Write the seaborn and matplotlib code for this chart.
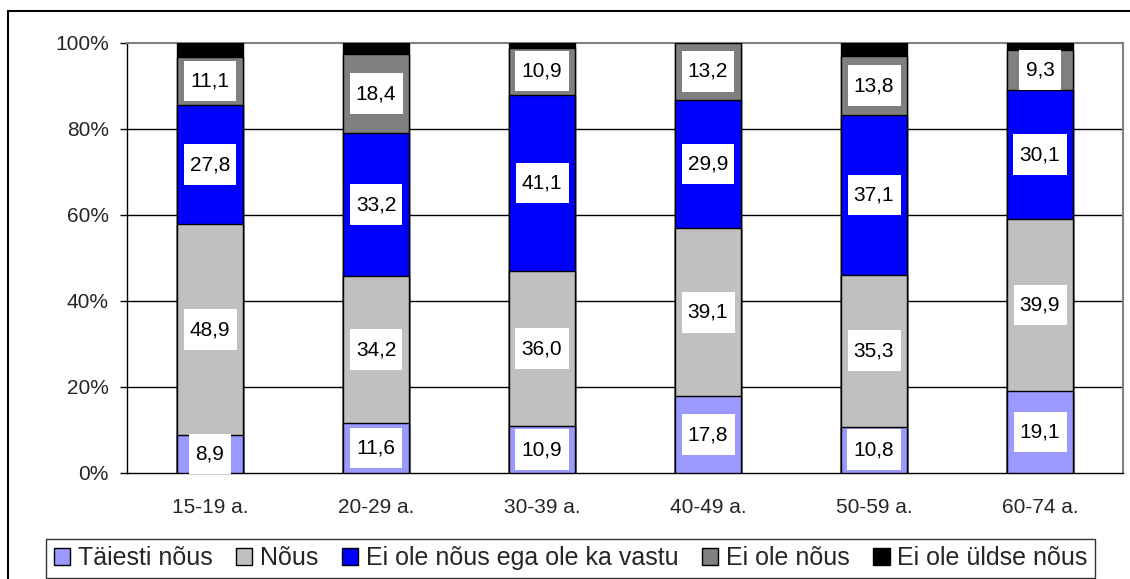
import matplotlib
matplotlib.use("Agg")
import matplotlib.pyplot as plt
import seaborn as sns
import pandas as pd
import numpy as np
from matplotlib.patches import Rectangle, Patch
from matplotlib.path import Path

# age groups and answer shares (%)
groups = ["15-19 a.", "20-29 a.", "30-39 a.", "40-49 a.", "50-59 a.", "60-74 a."]
taiesti_nous = [8.9, 11.6, 10.9, 17.8, 10.8, 19.1]
nous = [48.9, 34.2, 36.0, 39.1, 35.3, 39.9]
ega_vastu = [27.8, 33.2, 41.1, 29.9, 37.1, 30.1]
ei_nous = [11.1, 18.4, 10.9, 13.2, 13.8, 9.3]
ei_uldse = [3.3, 2.6, 1.1, 0.0, 3.0, 1.6]

series = ["Täiesti nõus", "Nõus", "Ei ole nõus ega ole ka vastu", "Ei ole nõus", "Ei ole üldse nõus"]
colors = ["#9999FF", "#C0C0C0", "#0000FF", "#808080", "#000000"]

df = pd.DataFrame({"group": groups, series[0]: taiesti_nous, series[1]: nous,
                   series[2]: ega_vastu, series[3]: ei_nous, series[4]: ei_uldse})

sns.set_style("white")
plt.rcParams['font.family'] = ['Liberation Sans', 'DejaVu Sans']


def label_box(x0, y0, width, height, mutation_size):
    # white label box, more padding top/bottom than sides
    px = 0.3 * mutation_size
    py = 0.52 * mutation_size
    x0, y0 = x0 - px, y0 - py
    x1, y1 = x0 + width + 2 * px, y0 + height + 2 * py
    return Path([(x0, y0), (x1, y0), (x1, y1), (x0, y1), (x0, y0)], closed=True)


fig = plt.figure(figsize=(11.3, 5.79), dpi=100)
ax = fig.add_axes([127 / 1130, 1 - 473 / 579, 996 / 1130, 430 / 579])

# stacked bars: draw cumulative totals from top to bottom
cum = df[series].cumsum(axis=1)
for i in range(len(series) - 1, -1, -1):
    sns.barplot(x=df["group"], y=cum[series[i]], color=colors[i], width=0.4,
                edgecolor="black", linewidth=1, saturation=1, ax=ax, zorder=3)

# value labels in white boxes
for j in range(len(groups)):
    bottom = 0
    for i in range(len(series) - 1):
        v = df[series[i]][j]
        ax.text(j, bottom + v / 2, f"{v:.1f}".replace(".", ","), ha="center", va="center",
                fontsize=15, color="black", zorder=5,
                bbox=dict(boxstyle=label_box, fc="white", ec="none"))
        bottom += v

ax.set_xlim(-0.5, len(groups) - 0.5)
ax.set_ylim(0, 100)
ax.set_yticks([0, 20, 40, 60, 80, 100])
ax.set_yticklabels([f"{t}%" for t in range(0, 101, 20)], fontsize=15)
ax.set_xticks(range(len(groups)))
ax.set_xticklabels(groups, fontsize=15)
ax.set_xticks(np.arange(-0.5, len(groups), 1), minor=True)
ax.tick_params(axis="x", which="major", length=0, pad=18)
ax.tick_params(axis="x", which="minor", length=5, width=1, color="black", direction="out")
ax.tick_params(axis="y", length=5, width=1, color="black", direction="out", pad=8, left=True)
ax.set_xlabel("")
ax.set_ylabel("")

for y in [20, 40, 60, 80]:
    ax.axhline(y, color="black", linewidth=1, zorder=1)

for s in ["left", "bottom"]:
    ax.spines[s].set_color("black")
    ax.spines[s].set_linewidth(1)
for s in ["top", "right"]:
    ax.spines[s].set_color("#808080")
    ax.spines[s].set_linewidth(1.5)

# legend
handles = [Patch(facecolor=c, edgecolor="black", linewidth=1) for c in colors]
leg = fig.legend(handles, series, loc="center", bbox_to_anchor=(0.505, 0.036), ncol=5,
                 fontsize=18, frameon=True, fancybox=False, edgecolor="black",
                 handlelength=0.65, handleheight=0.65, handletextpad=0.3, columnspacing=0.95,
                 borderpad=0.3, borderaxespad=0)
leg.get_frame().set_linewidth(1)

# chart area border
fig.patches.append(Rectangle((8 / 1130, -0.1), 1.2, 1.1 - 11 / 579, transform=fig.transFigure,
                             fill=False, edgecolor="black", linewidth=1.5))

fig.savefig("out.png", dpi=100)
